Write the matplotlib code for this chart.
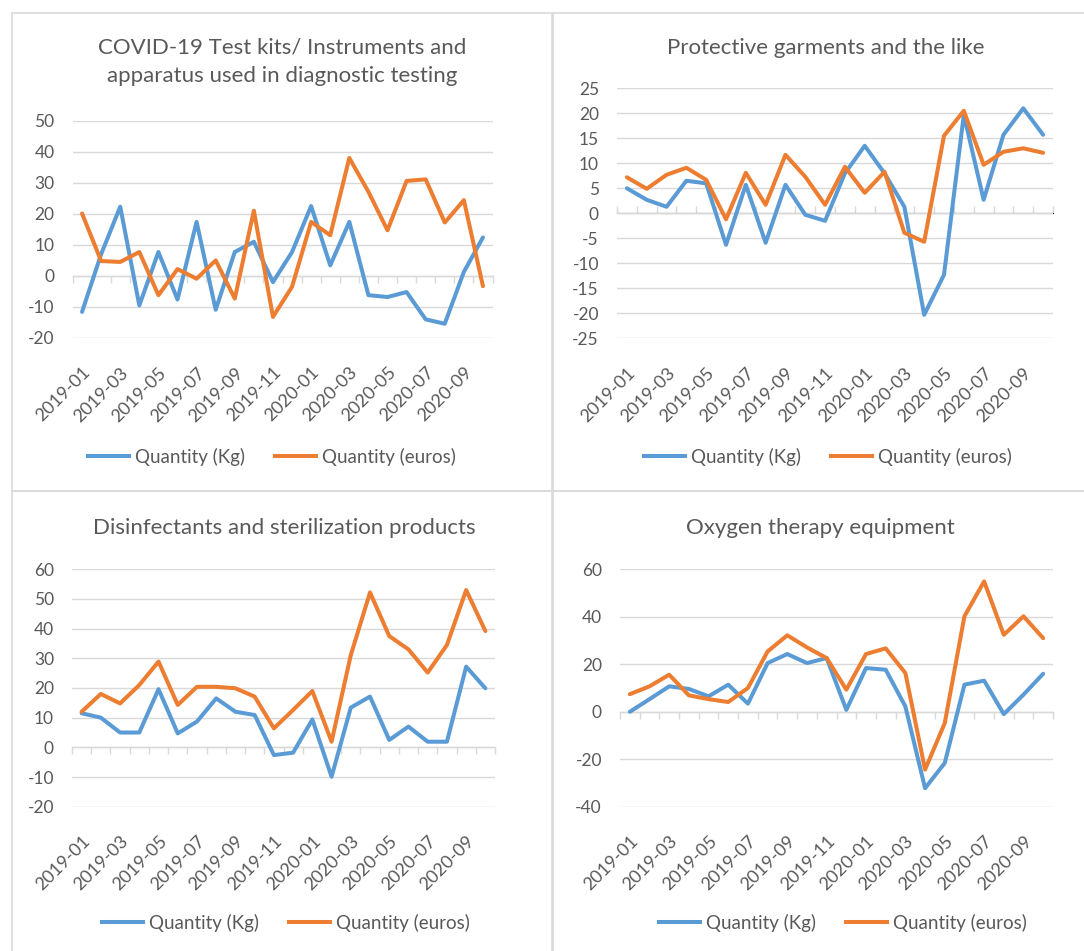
import matplotlib
matplotlib.use("Agg")
import matplotlib.pyplot as plt
from matplotlib.patches import Rectangle
from matplotlib.lines import Line2D

months = ["2019-01", "2019-02", "2019-03", "2019-04", "2019-05", "2019-06",
          "2019-07", "2019-08", "2019-09", "2019-10", "2019-11", "2019-12",
          "2020-01", "2020-02", "2020-03", "2020-04", "2020-05", "2020-06",
          "2020-07", "2020-08", "2020-09", "2020-10"]

titles = ["COVID-19 Test kits/ Instruments and\napparatus used in diagnostic testing",
          "Protective garments and the like",
          "Disinfectants and sterilization products",
          "Oxygen therapy equipment"]

series_names = ["Quantity (Kg)", "Quantity (euros)"]

test_kg = [-11.6, 7, 22.3, -9.5, 7.7, -7.6, 17.4, -10.9, 7.7, 11, -2, 7.7,
           22.5, 3.4, 17.4, -6.2, -6.8, -5.2, -14, -15.4, 1.3, 12.4]
test_eur = [20.1, 4.8, 4.5, 7.7, -6.2, 2.2, -0.9, 5, -7.3, 21, -13.2, -3.5,
            17.4, 13.1, 38, 27.1, 14.7, 30.6, 31.1, 17.2, 24.4, -3.3]

prot_kg = [5, 2.7, 1.3, 6.5, 6, -6.3, 5.7, -5.9, 5.7, -0.3, -1.5, 8,
           13.5, 8, 1.3, -20.3, -12.3, 19.7, 2.7, 15.7, 21, 15.7]
prot_eur = [7.2, 4.9, 7.7, 9.1, 6.7, -1.2, 8.1, 1.7, 11.7, 7.3, 1.7, 9.3,
            4.1, 8.3, -3.9, -5.7, 15.5, 20.5, 9.7, 12.3, 13, 12.1]

dis_kg = [11.5, 10, 5, 5, 19.6, 4.7, 8.7, 16.5, 12, 10.9, -2.6, -1.8,
          9.4, -9.9, 13.4, 17.1, 2.5, 7, 1.9, 1.9, 27.2, 19.9]
dis_eur = [12, 18, 14.8, 21, 28.9, 14.3, 20.4, 20.4, 19.9, 17.1, 6.4, 12.6,
           19, 1.9, 31.1, 52.2, 37.5, 33, 25.2, 34.5, 53, 39.2]

oxy_kg = [0, 5.3, 10.7, 9.6, 6.5, 11.4, 3.4, 20.5, 24.3, 20.5, 22.6, 0.8,
          18.4, 17.7, 2.2, -32.2, -21.6, 11.4, 13.1, -1, 7.2, 16]
oxy_eur = [7.4, 10.7, 15.6, 6.9, 5.3, 4.1, 10, 25.4, 32.2, 27.1, 22.6, 9.3,
           24.3, 26.7, 16.3, -24.4, -4.8, 40.2, 54.9, 32.4, 40.2, 31]

yticks_list = [list(range(-20, 51, 10)), list(range(-25, 26, 5)),
               list(range(-20, 61, 10)), list(range(-40, 61, 20))]

panels = [(test_kg, test_eur), (prot_kg, prot_eur), (dis_kg, dis_eur), (oxy_kg, oxy_eur)]

W, H = 1084, 951
BLUE = "#5B9BD5"
ORANGE = "#ED7D31"
GREY_TXT = "#595959"
GRID = "#D9D9D9"
FONT = "Lato"

plt.rcParams["font.family"] = [FONT, "DejaVu Sans"]

fig = plt.figure(figsize=(W / 100, H / 100), dpi=100)
fig.patch.set_facecolor("white")

def fbox(x0, y0, x1, y1):
    return [x0 / W, 1 - y1 / H, (x1 - x0) / W, (y1 - y0) / H]

# panel borders
for (x0, y0, x1, y1) in [(12, 13, 552, 491), (553, 13, 1090, 491),
                         (12, 491, 552, 960), (553, 491, 1090, 960)]:
    fig.patches.append(Rectangle((x0 / W, 1 - y1 / H), (x1 - x0) / W, (y1 - y0) / H,
                                 transform=fig.transFigure, fill=False,
                                 edgecolor="#D9D9D9", linewidth=1.2))

axes_px = [(72.5, 120.7, 492.5, 338), (617, 88.3, 1053, 338.3),
           (72, 569.3, 495, 806.7), (620, 569.3, 1053, 806.7)]
title_pos = [(282, 62), (826, 48), (284, 528), (820, 528)]
legend_pos = [(272, 457), (828, 457), (286, 923), (843, 923)]

x = list(range(len(months)))

for i, ((kg, eur), yt, box) in enumerate(zip(panels, yticks_list, axes_px)):
    ax = fig.add_axes(fbox(*box))
    ax.set_xlim(-0.5, len(months) - 0.5)
    ax.set_ylim(yt[0], yt[-1])
    for s in ax.spines.values():
        s.set_visible(False)
    ax.set_yticks(yt)
    ax.set_yticklabels([str(v) for v in yt])
    ax.grid(axis="y", color=GRID, linewidth=1.0)
    ax.set_axisbelow(True)
    ax.tick_params(axis="y", length=0, pad=13, labelsize=12.5, labelcolor=GREY_TXT)
    ax.set_xticks(x[::2])
    ax.set_xticklabels(months[::2], rotation=45, ha="right", va="top",
                       rotation_mode="anchor")
    ax.tick_params(axis="x", length=0, pad=19, labelsize=13, labelcolor=GREY_TXT)

    # category axis at zero with boundary ticks
    frac = (0 - yt[0]) / (yt[-1] - yt[0])
    sec = ax.secondary_xaxis(frac)
    sec.set_xticks([k - 0.5 for k in range(len(months) + 1)])
    sec.set_xticklabels([])
    sec.tick_params(axis="x", length=5, width=1, color=GRID, direction="out")
    sec.spines["bottom"].set_color(GRID)
    sec.spines["bottom"].set_linewidth(1.0)

    ax.plot(x, kg, color=BLUE, linewidth=2.9, solid_joinstyle="round",
            solid_capstyle="round", zorder=3)
    ax.plot(x, eur, color=ORANGE, linewidth=2.9, solid_joinstyle="round",
            solid_capstyle="round", zorder=3)

    tx, ty = title_pos[i]
    fig.text(tx / W, 1 - ty / H, titles[i], ha="center", va="center",
             fontsize=16, color=GREY_TXT, linespacing=1.55)

    lx, ly = legend_pos[i]
    handles = [Line2D([], [], color=BLUE, linewidth=2.9),
               Line2D([], [], color=ORANGE, linewidth=2.9)]
    fig.legend(handles, series_names, loc="center", bbox_to_anchor=(lx / W, 1 - ly / H),
               ncol=2, frameon=False, fontsize=13.5, handlelength=2.2,
               handletextpad=0.3, columnspacing=1.6, labelcolor=GREY_TXT,
               borderaxespad=0, borderpad=0)

fig.savefig("out.png", dpi=100, facecolor="white")
